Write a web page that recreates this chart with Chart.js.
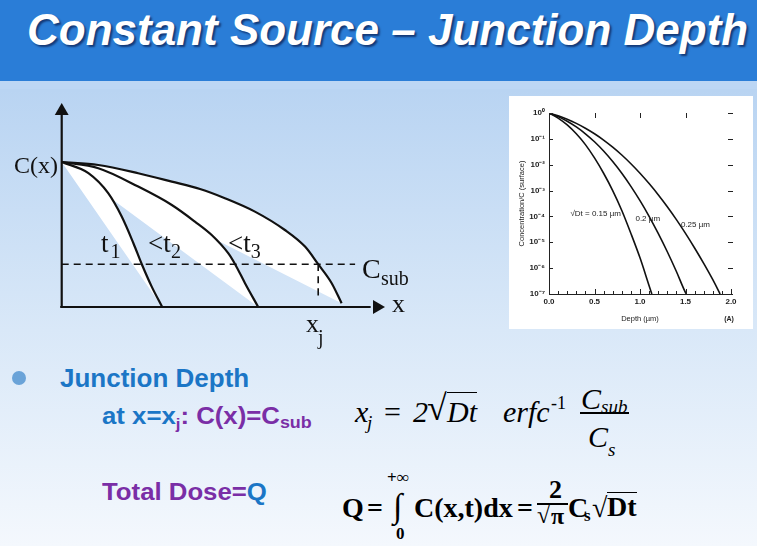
<!DOCTYPE html>
<html>
<head>
<meta charset="utf-8">
<script src="https://cdn.jsdelivr.net/npm/chart.js@4.4.1/dist/chart.umd.min.js"></script>
<style>
  html, body { margin: 0; padding: 0; }
  body {
    width: 757px; height: 546px; position: relative; overflow: hidden;
    background: linear-gradient(to bottom, #b6d2f1 0px, #b9d4f2 90px, #d9e8f8 330px, #f4f8fd 546px);
    font-family: 'Liberation Sans', Arial, sans-serif;
  }
  .bar { position: absolute; left: 0; top: 0; width: 757px; height: 81px; background: #2a7dd7; }
  .strip { position: absolute; left: 0; top: 81px; width: 757px; height: 8px; background: #bcd6f4; }
  .title {
    position: absolute; left: 27px; top: 8px; color: #fff; font-size: 44px; line-height: 1;
    font-weight: bold; font-style: italic; white-space: nowrap;
    text-shadow: 2px 2px 2px rgba(0, 0, 40, 0.55);
  }
  .t { position: absolute; white-space: nowrap; line-height: 1; font-weight: bold; }
  .wide { transform: scaleX(1.12); transform-origin: left top; }
  .blue { color: #1b76c6; }
  .purple { color: #7a2ea6; }
  .m { position: absolute; white-space: nowrap; line-height: 1; color: #000;
       font-family: 'Liberation Serif', 'Times New Roman', serif; }
  .i { font-style: italic; }
  .b { font-weight: bold; }
  .rule { position: absolute; background: #000; }
  #diagram { position: absolute; left: 0; top: 88px; }
  #box { position: absolute; left: 509px; top: 96px; width: 244px; height: 233px; background: #fff; }
  #depthChart { position: absolute; left: 0; top: 0; }
</style>
</head>
<body>
<div class="bar"></div>
<div class="strip"></div>
<div class="title">Constant Source – Junction Depth</div>

<canvas id="diagram" width="430" height="262"></canvas>

<div id="box"><canvas id="depthChart" width="244" height="233"></canvas></div>

<!-- texto inferior -->
<div style="position:absolute;left:12px;top:371px;width:14px;height:14px;border-radius:7px;background:#6aa3d8;"></div>
<div class="t blue" style="left:60px;top:365px;font-size:26px;">Junction Depth</div>
<div class="t wide" style="left:102px;top:405px;font-size:23px;">
  <span class="blue">at x=x</span><span class="purple" style="font-size:15px;position:relative;top:5px;">j</span><span class="purple">: C(x)=C</span><span class="purple" style="font-size:16px;position:relative;top:4px;">sub</span>
</div>
<div class="t wide" style="left:102px;top:481px;font-size:23px;">
  <span class="purple">Total Dose=</span><span class="blue">Q</span>
</div>

<!-- x_j = 2 sqrt(Dt) erfc^-1 Csub/Cs -->
<div class="m i" style="left:355px;top:397px;font-size:30px;">x</div>
<div class="m i" style="left:367px;top:413px;font-size:19px;">j</div>
<div class="m" style="left:384px;top:397px;font-size:30px;">=</div>
<div class="m i" style="left:413px;top:397px;font-size:30px;">2</div>
<div class="m" style="left:427px;top:390px;font-size:36px;">√</div>
<div class="m i" style="left:447px;top:392px;font-size:30px;border-top:1.5px solid #000;padding-top:4px;">Dt</div>
<div class="m i" style="left:503px;top:397px;font-size:30px;">erfc</div>
<div class="m" style="left:551px;top:394px;font-size:18px;">-1</div>
<div class="m i" style="left:581px;top:384px;font-size:30px;">C</div>
<div class="m i" style="left:601px;top:397px;font-size:19px;">sub</div>
<div class="rule" style="left:580px;top:412px;width:49px;height:1.5px;"></div>
<div class="m i" style="left:588px;top:422px;font-size:30px;">C</div>
<div class="m i" style="left:608px;top:440px;font-size:19px;">s</div>

<!-- Q = integral -->
<div class="m b" style="left:342px;top:494px;font-size:28px;">Q</div>
<div class="m b" style="left:367px;top:494px;font-size:28px;">=</div>
<div class="m b" style="left:387px;top:469px;font-size:17px;">+∞</div>
<div class="m" style="left:393px;top:489px;font-size:34px;">∫</div>
<div class="m b" style="left:396px;top:525px;font-size:17px;">0</div>
<div class="m b" style="left:414px;top:494px;font-size:28px;">C(x,t)dx</div>
<div class="m b" style="left:517px;top:494px;font-size:28px;">=</div>
<div class="m b" style="left:549px;top:477px;font-size:26px;">2</div>
<div class="rule" style="left:537px;top:503px;width:31px;height:2px;"></div>
<div class="m b" style="left:537px;top:503px;font-size:24px;">√</div>
<div class="m b" style="left:551px;top:503px;font-size:24px;border-top:1.5px solid #000;">π</div>
<div class="m b" style="left:568px;top:494px;font-size:28px;">C</div>
<div class="m b" style="left:584px;top:507px;font-size:17px;">s</div>
<div class="m b" style="left:592px;top:494px;font-size:28px;">√</div>
<div class="m b" style="left:607px;top:492px;font-size:28px;border-top:1.5px solid #000;">Dt</div>

<script>
// ---- datos: curvas erfc ----
const depthA = [0, 0.1, 0.2, 0.3, 0.4, 0.5, 0.6, 0.7, 0.8, 0.9, 1.0, 1.1, 1.13];
const concA = [1, 0.637, 0.346, 0.157, 0.0598, 0.0183, 0.00468, 0.00100, 1.7e-4, 2.2e-5, 2.5e-6, 2.1e-7, 1.0e-7];
const depthB = [0, 0.1, 0.2, 0.3, 0.4, 0.5, 0.6, 0.7, 0.8, 0.9, 1.0, 1.1, 1.2, 1.3, 1.4, 1.5, 1.51];
const concB = [1, 0.724, 0.480, 0.289, 0.157, 0.0771, 0.0339, 0.0133, 0.00468, 0.00146, 4.07e-4, 1.01e-4, 2.2e-5, 4.3e-6, 7.4e-7, 1.14e-7, 1.0e-7];
const depthC = [0, 0.1, 0.2, 0.3, 0.4, 0.5, 0.6, 0.7, 0.8, 0.9, 1.0, 1.1, 1.2, 1.3, 1.4, 1.5, 1.6, 1.7, 1.8, 1.88];
const concC = [1, 0.777, 0.572, 0.396, 0.258, 0.157, 0.0897, 0.0477, 0.0237, 0.0109, 0.00468, 0.00186, 6.9e-4, 2.36e-4, 7.5e-5, 2.2e-5, 6.0e-6, 1.52e-6, 3.56e-7, 1.0e-7];
const curveNames = ['√Dt = 0.15 µm', '0.2 µm', '0.25 µm'];
const xTickVals = [0, 0.1, 0.2, 0.3, 0.4, 0.5, 0.6, 0.7, 0.8, 0.9, 1.0, 1.1, 1.2, 1.3, 1.4, 1.5, 1.6, 1.7, 1.8, 1.9, 2.0];
const yTickVals = [1, 1e-1, 1e-2, 1e-3, 1e-4, 1e-5, 1e-6, 1e-7];

// ---- datos: esquema C(x) (unidades arbitrarias) ----
const t1X = [0, 0.89, 1.55, 2.0, 2.39, 2.67, 3.0, 3.35];
const t1Y = [7.25, 6.69, 5.69, 4.52, 3.19, 2.14, 1.02, 0];
const t2X = [0, 1.22, 2.55, 3.67, 4.44, 5.0, 5.55, 5.78, 6.11, 6.55];
const t2Y = [7.25, 6.94, 6.02, 5.1, 4.27, 3.6, 2.69, 2.14, 1.19, 0];
const t3X = [0, 1.22, 2.55, 3.67, 4.61, 5.44, 6.44, 7.44, 8.11, 8.55, 9.0, 9.33];
const t3Y = [7.25, 7.1, 6.69, 6.27, 5.9, 5.44, 4.77, 3.85, 3.02, 2.14, 1.19, 0.19];
const cSub = 2.14;
const xj = 8.55;

const pts = (xs, ys) => xs.map((x, i) => ({ x: x, y: ys[i] }));

// ===== Esquema izquierdo =====
const sup = { '0': '⁰', '1': '¹', '2': '²', '3': '³', '4': '⁴', '5': '⁵', '6': '⁶', '7': '⁷', '-': '⁻' };

const diagramText = {
  id: 'diagramText',
  afterDatasetsDraw(chart) {
    const ctx = chart.ctx, sx = chart.scales.x, sy = chart.scales.y;
    const put = (txt, x, y, size, align) => {
      ctx.font = size + "px 'Liberation Serif', 'Times New Roman', serif";
      ctx.textAlign = align || 'left';
      ctx.textBaseline = 'alphabetic';
      ctx.fillStyle = '#111';
      ctx.fillText(txt, sx.getPixelForValue(x), sy.getPixelForValue(y));
    };
    put('C(x)', -0.12, 6.7, 24, 'right');
    put('t', 1.31, 2.75, 27); put('1', 1.63, 2.45, 20);
    put('<t', 2.88, 2.75, 27); put('2', 3.64, 2.45, 20);
    put('<t', 5.54, 2.75, 27); put('3', 6.3, 2.45, 20);
    put('C', 10.01, 1.45, 28); put('sub', 10.64, 1.1, 20);
    put('x', 11.01, -0.25, 26);
    put('x', 8.14, -1.25, 26); put('j', 8.54, -1.85, 20);
  }
};

const lineDs = (data, extra) => Object.assign({
  data: data, borderColor: '#111', borderWidth: 2.2, pointRadius: 0, fill: false,
  cubicInterpolationMode: 'monotone'
}, extra || {});

new Chart(document.getElementById('diagram'), {
  type: 'line',
  data: {
    datasets: [
      lineDs([{ x: 0, y: t1Y[0] }, { x: t1X[t1X.length - 1], y: 0 }], { borderWidth: 0, order: 5 }),
      lineDs(pts(t1X, t1Y), { fill: '-1', backgroundColor: '#ffffff', order: 5 }),
      lineDs([{ x: 0, y: t2Y[0] }, { x: t2X[t2X.length - 1], y: 0 }], { borderWidth: 0, order: 5 }),
      lineDs(pts(t2X, t2Y), { fill: '-1', backgroundColor: '#ffffff', order: 5 }),
      lineDs([{ x: 0, y: t3Y[0] }, { x: t3X[t3X.length - 1], y: t3Y[t3Y.length - 1] }], { borderWidth: 0, order: 5 }),
      lineDs(pts(t3X, t3Y), { fill: '-1', backgroundColor: '#ffffff', order: 5 }),
      lineDs([{ x: 0, y: cSub }, { x: 9.78, y: cSub }], { borderWidth: 1.6, borderDash: [7, 5], order: 1 }),
      lineDs([{ x: xj, y: cSub }, { x: xj, y: 0.45 }], { borderWidth: 1.6, borderDash: [7, 5], order: 1 }),
      lineDs([{ x: -0.05, y: 0 }, { x: 10.3, y: 0 }], { borderWidth: 2.2, order: 0 }),
      lineDs([{ x: 0, y: 0 }, { x: 0, y: 9.6 }], { borderWidth: 2.2, order: 0 }),
      { data: [{ x: 10.51, y: 0 }], showLine: false, pointStyle: 'triangle', pointRadius: 8, order: 0,
        rotation: 90, backgroundColor: '#111', borderColor: '#111', borderWidth: 0 },
      { data: [{ x: 0, y: 9.8 }], showLine: false, pointStyle: 'triangle', pointRadius: 8, order: 0,
        rotation: 0, backgroundColor: '#111', borderColor: '#111', borderWidth: 0 }
    ]
  },
  options: {
    responsive: false,
    animation: false,
    devicePixelRatio: 1,
    layout: { padding: 0, autoPadding: false },
    plugins: { legend: { display: false }, tooltip: { enabled: false } },
    scales: {
      x: { type: 'linear', display: false, min: -2.057, max: 12.277 },
      y: { type: 'linear', display: false, min: -2.15, max: 10.95 }
    }
  },
  plugins: [diagramText]
});

// ===== Gráfica logarítmica derecha =====
const tickMarks = {
  id: 'tickMarks',
  afterDatasetsDraw(chart) {
    const ctx = chart.ctx, a = chart.chartArea, sx = chart.scales.x, sy = chart.scales.y;
    ctx.save();
    ctx.strokeStyle = '#222';
    ctx.lineWidth = 1;
    ctx.beginPath();
    xTickVals.forEach(v => {
      const px = Math.round(sx.getPixelForValue(v)) + 0.5;
      const major = Math.abs(v * 2 - Math.round(v * 2)) < 1e-6;
      ctx.moveTo(px, a.bottom); ctx.lineTo(px, a.bottom - (major ? 5 : 3));
      if (major && v > 0 && v < 2) { ctx.moveTo(px, a.top); ctx.lineTo(px, a.top + 5); }
    });
    yTickVals.forEach(v => {
      const py = Math.round(sy.getPixelForValue(v)) + 0.5;
      ctx.moveTo(a.left, py); ctx.lineTo(a.left + 4, py);
      ctx.moveTo(a.right + 2, py); ctx.lineTo(a.right - 3, py);
    });
    ctx.stroke();
    // nombres de curvas y (A)
    ctx.fillStyle = '#222';
    ctx.font = "8px 'Liberation Sans', Arial, sans-serif";
    ctx.textBaseline = 'middle';
    ctx.textAlign = 'left';
    const lx = [0.235, 0.95, 1.45];
    const ly = [Math.pow(10, -3.89), Math.pow(10, -4.08), Math.pow(10, -4.31)];
    curveNames.forEach((n, i) => ctx.fillText(n, sx.getPixelForValue(lx[i]), sy.getPixelForValue(ly[i])));
    ctx.textAlign = 'center';
    ctx.font = "bold 7px 'Liberation Sans', Arial, sans-serif";
    ctx.fillText('(A)', a.right - 2, a.bottom + 25);
    ctx.restore();
  }
};

const curveDs = (xs, ys) => ({
  data: pts(xs, ys), borderColor: '#111', borderWidth: 1.6, pointRadius: 0,
  fill: false, cubicInterpolationMode: 'monotone'
});

new Chart(document.getElementById('depthChart'), {
  type: 'line',
  data: {
    datasets: [curveDs(depthA, concA), curveDs(depthB, concB), curveDs(depthC, concC)]
  },
  options: {
    responsive: false,
    animation: false,
    devicePixelRatio: 1,
    layout: { padding: { top: 17, right: 22, left: 0, bottom: 0 }, autoPadding: false },
    plugins: { legend: { display: false }, tooltip: { enabled: false } },
    scales: {
      x: {
        type: 'linear', min: 0, max: 2,
        afterBuildTicks: s => { s.ticks = xTickVals.map(v => ({ value: v })); },
        afterFit: s => { s.height = 35; },
        ticks: {
          autoSkip: false, maxRotation: 0, padding: 3, color: '#222',
          font: { size: 8, weight: 'bold', family: "'Liberation Sans', Arial, sans-serif" },
          callback: v => (Math.abs(v * 2 - Math.round(v * 2)) < 1e-6 ? v.toFixed(1) : '')
        },
        grid: { display: false, drawTicks: false },
        border: { display: true, color: '#222', width: 1 },
        title: { display: true, text: 'Depth (µm)', color: '#222', padding: { top: 2, bottom: 6 },
                 font: { size: 7.5, family: "'Liberation Sans', Arial, sans-serif" } }
      },
      y: {
        type: 'logarithmic', min: 1e-7, max: 1,
        afterBuildTicks: s => { s.ticks = yTickVals.map(v => ({ value: v })); },
        afterFit: s => { s.width = 40; },
        ticks: {
          autoSkip: false, padding: 4, color: '#222',
          font: { size: 8, weight: 'bold', family: "'Liberation Sans', Arial, sans-serif" },
          callback: v => '10' + String(Math.round(Math.log10(v))).split('').map(c => sup[c]).join('')
        },
        grid: { display: false, drawTicks: false },
        border: { display: true, color: '#222', width: 1 },
        title: { display: true, text: 'Concentration/C (surface)', color: '#222', padding: { top: 8, bottom: 0 },
                 font: { size: 7.5, family: "'Liberation Sans', Arial, sans-serif" } }
      }
    }
  },
  plugins: [tickMarks]
});
</script>
</body>
</html>
